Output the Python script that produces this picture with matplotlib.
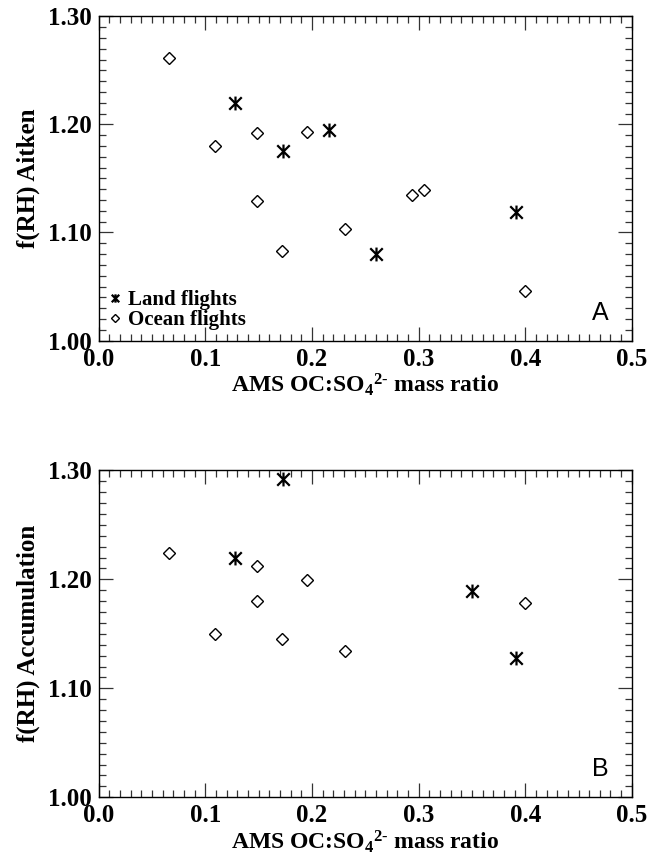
import matplotlib
matplotlib.use('Agg')
import matplotlib.pyplot as plt
from matplotlib.path import Path
from matplotlib.ticker import MultipleLocator, FormatStrFormatter

# panel A: Aitken mode
land_x_a = [0.128, 0.173, 0.216, 0.260, 0.391]
land_y_a = [1.220, 1.175, 1.195, 1.080, 1.119]
ocean_x_a = [0.066, 0.109, 0.148, 0.148, 0.172, 0.195, 0.231, 0.294, 0.305, 0.400]
ocean_y_a = [1.261, 1.180, 1.192, 1.129, 1.083, 1.193, 1.103, 1.135, 1.139, 1.046]

# panel B: accumulation mode
land_x_b = [0.128, 0.173, 0.350, 0.391]
land_y_b = [1.220, 1.292, 1.189, 1.128]
ocean_x_b = [0.066, 0.109, 0.148, 0.148, 0.172, 0.195, 0.231, 0.400]
ocean_y_b = [1.224, 1.150, 1.212, 1.180, 1.145, 1.199, 1.134, 1.178]

ylabels = ['f(RH) Aitken', 'f(RH) Accumulation']
panel_tags = ['A', 'B']
xlabel = r'AMS OC:SO$_4$$^{2\text{-}}$ mass ratio'

plt.rcParams['font.family'] = 'Liberation Serif'
plt.rcParams['font.weight'] = 'bold'
plt.rcParams['axes.labelweight'] = 'bold'
plt.rcParams['mathtext.fontset'] = 'custom'
plt.rcParams['mathtext.rm'] = 'Liberation Serif:bold'
plt.rcParams['mathtext.it'] = 'Liberation Serif:bold'
plt.rcParams['mathtext.bf'] = 'Liberation Serif:bold'

# IDL-like asterisk: vertical bar plus an X
star = Path([(0, -1), (0, 1), (-0.9, -0.9), (0.9, 0.9), (-0.9, 0.9), (0.9, -0.9)],
            [Path.MOVETO, Path.LINETO, Path.MOVETO, Path.LINETO, Path.MOVETO, Path.LINETO])

fig = plt.figure(figsize=(6.5, 8.6), dpi=100)
ax1 = fig.add_axes([0.152, 0.604, 0.820, 0.377])
ax2 = fig.add_axes([0.152, 0.073, 0.820, 0.380])

data = [(land_x_a, land_y_a, ocean_x_a, ocean_y_a),
        (land_x_b, land_y_b, ocean_x_b, ocean_y_b)]

for i, ax in enumerate([ax1, ax2]):
    lx, ly, ox, oy = data[i]
    ax.plot(lx, ly, linestyle='none', marker=star, ms=10, mew=1.6, color='black',
            label='Land flights')
    ax.plot(ox, oy, linestyle='none', marker='D', ms=6.6, mew=1.0, mfc='white',
            mec='black', label='Ocean flights')
    ax.set_xlim(0, 0.5)
    ax.set_ylim(1.0, 1.3)
    ax.xaxis.set_major_locator(MultipleLocator(0.1))
    ax.xaxis.set_minor_locator(MultipleLocator(0.01))
    ax.yaxis.set_major_locator(MultipleLocator(0.1))
    ax.yaxis.set_minor_locator(MultipleLocator(0.01))
    ax.xaxis.set_major_formatter(FormatStrFormatter('%.1f'))
    ax.yaxis.set_major_formatter(FormatStrFormatter('%.2f'))
    ax.tick_params(which='both', direction='in', top=True, right=True,
                   labelsize=18, width=0.9, color='#333333')
    ax.tick_params(which='major', length=10, pad=5)
    ax.tick_params(which='minor', length=5)
    for sp in ax.spines.values():
        sp.set_linewidth(1.0)
    ax.set_xlabel(xlabel, fontsize=17, labelpad=1)
    ax.set_ylabel(ylabels[i], fontsize=18, labelpad=6)
    ax.text(0.94, 0.085, panel_tags[i], transform=ax.transAxes, fontsize=18,
            family='Liberation Sans', fontweight='normal', ha='center', va='center')

ax1.legend(loc='lower left', bbox_to_anchor=(0.0, 0.0), frameon=False, fontsize=15,
           markerscale=0.6, handlelength=0.6, handletextpad=0.3, labelspacing=0.0,
           borderaxespad=0.1)

plt.savefig('out.png', dpi=100)
